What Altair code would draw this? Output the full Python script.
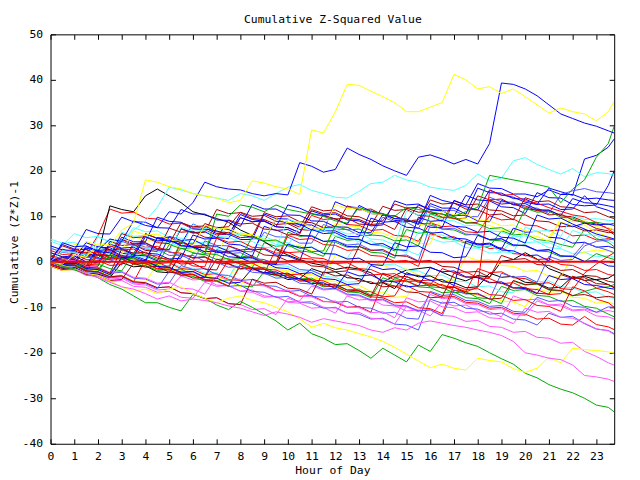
import altair as alt
import pandas as pd

# half-hour grid plus the final quarter hour
HOURS = [h / 2 for h in range(48)] + [23.75]

X_TICKS = list(range(24))
Y_TICKS = [-40, -30, -20, -10, 0, 10, 20, 30, 40, 50]

RED, DKRED, GREEN, BLUE = "#ff0000", "#aa0000", "#00aa00", "#0000ff"
LBLUE, MAG, CYAN, YEL, BLK = "#5555ff", "#ff55ff", "#55ffff", "#ffff00", "#000000"

S_Y1 = [0, -0.5, 1.5, 1, 4, 3.5, 7, 8.5, 18, 17.5, 16.5, 16, 15, 14.5, 14, 13,
        13.5, 17.8, 17.3, 16.5, 16, 14.8, 29, 28.3, 33, 39, 38.8, 37.5, 36.3, 35, 33, 33,
        34, 35, 41.2, 40, 38, 38.5, 37, 38, 36.3, 34.5, 32.7, 33.8, 33, 32.5, 31, 33, 35.3]
S_B1 = [0, 1, 0.5, 3, 2.5, 5, 4.5, 9, 8, 7.5, 11, 10.5, 13, 17.5, 16.5, 16,
        15.8, 15, 14.5, 15, 14.7, 21.8, 21, 19.7, 20.3, 25, 23.6, 22.5, 21.1, 20, 19, 23,
        23.5, 22.6, 21.5, 22.5, 21.5, 26, 39.3, 39, 38, 36.5, 34.5, 32.5, 31.5, 30.5, 29.8, 28.8, 28.3]
S_G1 = [0, -1, -1.5, 0, -0.5, -1.5, -2, 2, 1.5, 0.5, 0, 3, 2, 1.5, 10.5, 10,
        12.5, 12, 11, 12.5, 11.5, 11, 10.5, 10, 9, 8.5, 12, 11, 10.5, 10, 12, 11.5,
        11, 10.5, 10, 11, 12, 19, 18.5, 18, 17.5, 17, 16.4, 13, 16, 18, 23, 26, 29.8]
S_G2 = [0, -1, -1.8, -2.5, -3.5, -5, -6, -7.5, -9, -9, -10, -10.8, -7.2, -8, -9.5, -10.5,
        -8.7, -10, -11.5, -13, -15, -13.5, -15.8, -16.8, -18.2, -18, -19.5, -21.2, -19, -20.5, -22, -18.3,
        -19.7, -16, -16.8, -17.8, -18.6, -20, -21.3, -22.5, -24.5, -25.5, -27, -28, -28.8, -30, -31.5, -32, -33]
S_Y2 = [0, -0.8, -1.5, -2.5, -3, -4.2, -5.5, -6.5, -6, -7, -6, -5.5, -7, -8, -9, -8,
        -7.5, -8.5, -9, -10, -11, -12.5, -14.4, -13.5, -14.5, -15, -15.8, -16.5, -17.5, -18.8, -20.3, -21.8,
        -23.3, -22.5, -23.4, -23.8, -21.2, -21.7, -22, -23.5, -24.3, -23.4, -21, -22.2, -19, -19.3, -19.5, -19.8, -20.1]
S_M1 = [0, -1, -1.5, -2.5, -3.5, -4.5, -5.5, -6, -7, -8.2, -7.5, -8.6, -8.2, -8.5, -9, -9.7,
        -10.2, -11, -11.8, -11, -11.5, -12.2, -13.3, -12.5, -13, -13.5, -14, -15, -15.5, -14.5, -15, -13.5,
        -13, -13.5, -14, -14.4, -15, -15.5, -16.2, -17.5, -20, -20.5, -21.2, -21.5, -22.7, -25, -25.3, -25.8, -26.3]
S_K1 = [0, 0.5, -0.5, 1, 1.5, 12.3, 11.5, 11, 14.5, 16, 14.5, 13, 11, 10.3, 9.5, 8.7,
        7, 5.8, 4.5, 2.7, 1.5, 0.5, -0.3, -0.8, -1.7, -1.2, -1.6, -2.4, -4.5, -3, -1.8, -1.5,
        -1.2, -2.3, -3.4, -4.2, -3, -3.4, 0.1, 0.5, 2, 0.6, -1.5, -2.5, -3.5, -3.2, -4, -5, -5.7]
S_C1 = [0, 2.5, 2, 1.5, 3, 5, 4.5, 7, 9, 12, 16.4, 15.8, 15, 14.5, 14, 13.5,
        15, 14.5, 13.5, 15, 16.4, 17, 15.7, 15, 14.2, 14, 15.5, 17.2, 17.5, 19, 18, 17.5,
        16.4, 16, 15.7, 16.8, 19.3, 17.8, 18.4, 22.2, 22.9, 21.4, 20.3, 19.3, 20.5, 18.7, 19.6, 19.4, 19]
S_B2 = [1, 0.3, 2.2, 1.6, 0.8, 3.5, 2.9, 1.8, 6.2, 5.1, 4.6, 3.9, 8.3, 7.2, 6.8, 5.9,
        10.4, 9.3, 8.9, 7.7, 12.5, 11.8, 10.6, 10.1, 9.4, 8.2, 12.4, 11.1, 10.6, 9.5, 9.1, 8.4,
        14.6, 13.5, 12.9, 12.1, 11.4, 15.8, 14.7, 14.2, 13.1, 12.6, 16.2, 15.4, 14.6, 22.6, 23.4, 25.2, 27]
S_B3 = [2, 1.1, 0.9, 4.2, 3.2, 3.1, 1.9, 1.5, 0.4, 5.3, 4.9, 3.6, 3.3, 2.2, 7.6, 7.1,
        5.9, 5.4, 4.5, 9.5, 8.4, 8.3, 7, 6.8, 13.2, 12.1, 11.9, 10.6, 10.4, 9.1, 8.9, 12.5,
        11.5, 11.3, 10, 14.6, 13.6, 13.4, 12.1, 11.9, 10.6, 15.2, 14.1, 14, 12.6, 12.3, 12.5, 16.8, 20]
S_LB1 = [-0.5, -1.4, -1.5, 1.5, 0.6, 0.5, -0.7, 3.8, 2.8, 2.7, 1.4, 1.5, 0.2, 4.6, 3.6, 3.5,
         2.3, 2.2, 6.5, 5.5, 5.4, 4.1, 4.1, 8.2, 7.2, 7.1, 5.8, 5.8, 9.8, 8.8, 8.7, 7.3,
         12.3, 11.3, 11.3, 10, 9.9, 14.2, 13.2, 13.1, 11.9, 11.8, 10.6, 14.8, 15.6, 16.1, 15.4, 15.2, 15]
S_B4 = [0.5, 3.8, 2.8, 2.7, 1.5, 1.4, 5.4, 4.4, 4.4, 9.8, 8.9, 8.7, 7.4, 7.5, 6.2, 6.1,
        4.9, 4.9, 10.5, 9.5, 9.4, 8.1, 8.1, 6.8, 6.8, 5.6, 5.5, 11.2, 10.2, 10.1, 8.9, 8.8,
        7.6, 7.5, 13.5, 12.5, 17.2, 16.2, 16.1, 14.9, 14.9, 14.3, 15.8, 14.8, 14.8, 13.8, 14, 13.6, 13.5]
S_B5 = [3.5, 2.6, 2.5, 7.1, 6.2, 6.1, 9.8, 8.8, 8.7, 7.5, 7.4, 11.5, 10.5, 10.5, 9.2, 9.1,
        7.8, 12.6, 11.6, 11.6, 10.3, 10.2, 9, 8.9, 7.7, 7.6, 6.4, 6.4, 10.4, 9.5, 9.4, 8.2,
        12.8, 11.8, 11.8, 10.5, 16.2, 15.2, 15.1, 13.9, 13.8, 12.6, 12.7, 11.5, 11.6, 14.5, 12.1, 11.3, 10.7]
S_DR1 = [0.5, -0.4, -0.2, -1.5, 3.2, 2.3, 2.5, 1.2, 6.1, 5.2, 5.4, 4.1, 3.9, 8.4, 7.5, 7.7,
         10.9, 10, 10.2, 8.9, 8.7, 7.6, 12.1, 11.2, 11.4, 10.1, 9.9, 8.8, 9, 12.7, 11.8, 12,
         10.7, 10.5, 9.4, 9.6, 14.5, 13.6, 13.8, 12.5, 12.3, 11.2, 11.4, 10.1, 9.9, 8.8, 8.3, 7.4, 7]
S_DR2 = [-0.3, 2.8, 1.9, 2.1, 0.8, 0.6, 4.9, 4, 4.2, 2.9, 2.7, 7.2, 6.3, 6.5, 11.5, 10.6,
         10.8, 9.5, 9.3, 8.2, 8.4, 7.1, 6.9, 10.3, 9.4, 9.6, 8.3, 8.1, 12.2, 11.3, 11.5, 10.2,
         10, 8.9, 13.4, 12.5, 12.7, 11.4, 11.2, 10.1, 10.3, 9, 8.8, 7.7, 7.9, 6.8, 7, 6.4, 6.5]
S_DR3 = [1.2, 0.3, 0.5, -0.8, -1, 4.5, 3.6, 3.8, 2.5, 2.3, 7.4, 6.5, 6.7, 5.4, 5.2, 9.2,
         8.3, 8.5, 7.2, 7, 5.9, 6.1, 11.5, 10.6, 10.8, 9.5, 9.3, 8.2, 8.4, 7.1, 11.8, 10.9,
         11.1, 9.8, 9.6, 8.5, 8.7, 13.6, 12.7, 12.9, 11.6, 11.4, 10.3, 10.5, 9.2, 8.6, 7.3, 6.8, 6]
S_R1 = [-1, -1.9, 2.5, 1.6, 5.8, 11.6, 10.7, 10.9, 9.6, 9.4, 8.3, 8.5, 7.2, 7, 5.9, 6.1,
        9.7, 8.8, 9, 7.7, 7.5, 6.4, 10.2, 9.3, 9.5, 8.2, 8, 6.9, 7.1, 5.8, 5.6, 4.5,
        8.6, 7.7, 7.9, 6.6, 6.4, 10.1, 9.2, 9.4, 8.1, 7.9, 6.8, 7, 5.7, 5.9, 4.8, 5.1, 4.8]
S_G3 = [0, -0.9, -0.6, -1.7, -1.9, -3, 0.8, 0.5, -0.6, -0.4, -1.5, -2.2, 1.9, 1.6, 0.5, 0.7,
        -0.5, -1.3, 4.2, 3.4, 3.7, 2.4, 2.1, 1.2, 5.6, 4.7, 5, 3.8, 3.5, 2.4, 7.1, 6.3,
        6.5, 5.2, 4.9, 4.1, 3.2, 3.4, 6.8, 5.9, 6.1, 4.9, 4.6, 3.8, 3.2, 7.2, 5.1, 4.3, 3.3]
S_C2 = [4.5, 3.6, 6.2, 5.3, 5.6, 4.2, 4.1, 7.5, 6.6, 6.8, 5.4, 5.2, 4.1, 4.3, 3, 2.7,
        6.4, 5.5, 5.7, 4.4, 4.2, 3.1, 3.3, 2, 1.6, 0.8, 4.7, 3.8, 4, 2.7, 2.5, 1.5,
        5.2, 4.3, 4.5, 3.1, 3, 1.9, 2.1, 5.1, 4.2, 4.4, 3.1, 2.9, 1.8, 2.1, 1.1, 1.4, 1]
S_B6 = [0.3, -0.6, -0.4, 3.4, 2.5, 2.7, 1.3, 1.2, 0.1, 5.3, 4.4, 4.6, 3.2, 3.1, 2, 2.2,
        0.8, 0.9, -0.4, -0.6, 3.9, 3, 3.2, 1.8, 1.7, 0.6, 0.8, -0.6, -0.8, 4.2, 3.3, 3.5,
        2.1, 2, 0.9, 1.1, 5.8, 4.9, 5.1, 3.7, 3.6, 2.5, 2.7, 1.3, 1.2, 0.1, 0.3, -0.9, -1]
S_K2 = [-0.5, -1.4, -1.2, -2.5, -2.7, -3.5, -0.2, -1.1, -0.9, -2.2, -2.4, 1.8, 0.9, 1.1, -0.2, -0.4,
        -1.5, -1.3, -2.6, -2.8, -3.9, -3.7, -1.5, -2.4, -2.2, -3.5, -3.7, -4.8, -4.6, -5.9, -2.4, -3.3,
        -3.1, -4.4, -4.6, -5.7, -5.5, -2.5, -3.4, -3.2, -4.5, -4.7, -5.8, -5.6, -3.2, -4.1, -3.9, -3.6, -2.8]
S_DR4 = [0.8, -0.1, 0.1, -1.2, -1.4, -2.5, 2.8, 1.9, 2.1, 0.8, 0.6, -0.5, -0.3, -1.6, -1.8, 3.5,
         2.6, 2.8, 1.5, 1.3, 0.2, 0.4, -0.9, -1.1, -2.2, -2, 3.4, 2.5, 2.7, 1.4, 1.2, 0.1,
         0.3, -1, -1.2, -2.3, -2.1, -3.4, 1.4, 0.5, 0.7, -0.6, -0.8, -1.9, -1.7, -3, -3.2, -4.3, -4.5]
S_DR5 = [-0.8, -1.7, -1.5, -2.8, -3, -4.1, -3.9, -0.3, -1.2, -1, -2.3, -2.5, -3.6, -3.4, 0.6, -0.3,
         -0.1, -1.4, -1.6, -2.7, -2.5, -3.8, -4, -5.1, -4.9, -6.2, -6.4, -7.5, -2.5, -3.4, -3.2, -4.5,
         -4.7, -5.8, -5.6, -6.9, -7.1, -8.2, -8, -4.1, -5, -4.8, -6.1, -6.3, -7.4, -7.2, -7.9, -7.6, -7.8]
S_C3 = [1.5, 0.6, 0.8, -0.5, 3.2, 2.3, 2.5, 1.2, 1, -0.1, 0.1, -1.2, -1.4, -2.5, -2.3, -3.6,
        1.2, 0.3, 0.5, -0.8, -1, -2.1, -1.9, -3.2, -3.4, -4.5, -4.3, 0.2, -0.7, -0.5, -1.8, -2,
        -3.1, -2.9, -4.2, -4.4, -5.5, -5.3, -6.6, -6.8, -3.5, -4.4, -4.2, -5.5, -5.7, -6.8, -6.6, -7.9, -8]
S_Y3 = [0.2, -0.7, -0.5, -1.8, -2, -3.1, -2.9, -4.2, -4.4, -0.5, -1.4, -1.2, -2.5, -2.7, -3.8, -3.6,
        0.3, -0.6, -0.4, -1.7, -1.9, -3, -2.8, -4.1, -4.3, -5.4, -5.2, -6.5, -6.7, -7.8, -7.6, -4.2,
        -5.1, -4.9, -6.2, -6.4, -7.5, -7.3, -8.6, -8.8, -9.9, -5.8, -6.7, -6.5, -7.8, -8, -9.1, -8.9, -9.3]
S_M2 = [-0.5, -1.4, -1.2, -2.5, -2.7, -3.8, -3.6, -4.9, -5.1, -6.2, -6, -3.1, -4, -3.8, -5.1, -5.3,
        -6.4, -6.2, -7.5, -7.7, -8.8, -8.6, -5.3, -6.2, -6, -7.3, -7.5, -8.6, -8.4, -9.7, -9.9, -11,
        -7.2, -8.1, -7.9, -9.2, -9.4, -10.5, -10.3, -11.6, -11.8, -8.6, -9.5, -9.3, -10.6, -10.4, -11.1, -10.7, -11]
S_G4 = [0.5, -0.4, -0.2, -1.5, -1.7, 1.5, 0.6, 0.8, -0.5, -0.7, -1.8, -1.6, -2.9, -3.1, -4.2, -4,
        -5.3, -5.5, -2.2, -3.1, -2.9, -4.2, -4.4, -5.5, -5.3, -6.6, -6.8, -7.9, -3.5, -4.4, -4.2, -5.5,
        -5.7, -6.8, -6.6, -7.9, -8.1, -9.2, -5.4, -6.3, -6.1, -7.4, -7.6, -8.7, -8.5, -9.8, -10.2, -11.5, -12.1]
S_M3 = [-1, -1.9, -1.7, -3, -3.2, -4.3, -4.1, -5.4, -5.6, -6.7, -6.5, -7.8, -8, -4.5, -5.4, -5.2,
        -6.5, -6.7, -7.8, -7.6, -8.9, -9.1, -10.2, -10, -11.3, -7.5, -8.4, -8.2, -9.5, -9.7, -10.8, -10.6,
        -11.9, -8.8, -9.7, -9.5, -10.8, -11, -12.1, -7.5, -8.4, -8.2, -9.5, -9.7, -10.8, -10.6, -11.9, -12.1, -12.6]
S_R2 = [0, -0.9, -0.7, -2, -2.2, -3.3, -3.1, -4.4, 0.5, -0.4, -0.2, -1.5, -1.7, -2.8, -2.6, -3.9,
        -4.1, -5.2, -5, -6.3, -6.5, -7.6, -7.4, -8.7, -8.9, -10, -9.8, -11.1, -4.5, -5.4, -5.2, -6.5,
        -6.7, -7.8, -7.6, -8.9, -9.1, -10.2, -10, -11.3, -11.5, -12.6, -12.4, -13.7, -13.9, -12, -13.8, -14.3, -14.9]
S_LB2 = [-0.2, -1.1, -0.9, -2.2, -2.4, -3.5, -3.3, -4.6, -4.8, -5.9, -2.1, -3, -2.8, -4.1, -4.3, -5.4,
         -5.2, -6.5, -6.7, -7.8, -7.6, -8.9, -9.1, -10.2, -10, -11.3, -11.5, -12.6, -12.4, -13.7, -13.9, -15,
         -8.2, -9.1, -8.9, -10.2, -10.4, -11.5, -11.3, -12.6, -12.8, -13.9, -11.3, -12.2, -12, -13.6, -14.8, -15.1, -15.8]
S_M4 = [0, -0.9, -0.7, -2, -2.2, -3.3, -3.1, -4.4, -4.6, -5.7, -5.5, -6.8, -7, -8.1, -7.9, -9.2,
        -9.4, -10.5, -10.3, -11.6, -8, -8.9, -8.7, -10, -10.2, -11.3, -11.1, -12.4, -12.6, -13.7, -9.8, -10.7,
        -10.5, -11.8, -12, -13.1, -12.9, -14.2, -14.4, -15.5, -15.3, -16.6, -16.8, -17.9, -17.7, -19.7, -20.8, -22.2, -22.7]
S_R3 = [2.5, 1.6, 1.8, 0.5, 0.3, -0.8, -0.6, 4.1, 3.2, 3.4, 2.1, 1.9, 0.8, 1, -0.3, -0.5,
        -1.6, -1.4, -2.7, 2.9, 2, 2.2, 0.9, 0.7, -0.4, -0.2, -1.5, -1.7, -2.8, -2.6, -3.9, -4.1,
        -5.2, -5, -6.3, -6.5, -1.5, -2.4, -2.2, -3.5, -3.7, -4.8, -4.6, -5.9, -6.1, -2.5, -0.5, 1.2, 2]
S_R5 = [0, -0.9, -0.7, -2, 1.8, 0.9, 1.1, -0.2, -0.4, -1.5, -1.3, -2.6, -2.8, -3.9, -3.7, 0.4,
        -0.5, -0.3, -1.6, -1.8, -2.9, -2.7, -4, -4.2, -5.3, -5.1, -6.4, -6.6, -7.7, -7.5, -3.3, -4.2,
        -4, -5.3, -5.5, -6.6, -5.6, 15.7, 14.6, 14.8, 13.4, 12.9, 11.9, 11.1, 10.3, 9.9, 8.6, 7.2, 6.3]
S_Y4 = [-1, -1.9, -1.7, 2.6, 1.7, 1.9, 0.6, 0.4, -0.7, -0.5, -1.8, -2, -3.1, -2.9, -4.2, -4.4,
        -5.5, -0.5, -1.4, -1.2, -2.5, -2.7, -3.8, -3.6, 1.5, 0.6, 0.8, -0.5, -0.7, -1.8, -1.6, -2.9,
        -3.1, -4.2, -4, 1.2, 0.3, 0.5, -0.8, -1, -2.1, -1.9, -3.2, -3.4, 1.5, 2.1, 2.6, 2.3, 2]
S_Y5 = [2, 1.1, 1.3, 4.5, 3.6, 3.8, 2.5, 6.8, 5.9, 6.1, 4.8, 4.6, 3.5, 8.1, 7.2, 7.4,
        6.1, 5.9, 4.8, 9.5, 8.6, 8.8, 7.5, 7.3, 12.6, 11.7, 11.9, 10.6, 10.4, 9.3, 9.5, 8.2,
        8, 11.2, 10.3, 10.5, 9.2, 9, 7.9, 8.1, 6.8, 6.6, 5.5, 8.8, 7.9, 8.1, 6.4, 5.6, 5]
S_C4 = [5, 4.1, 4.3, 3, 2.8, 1.7, 6.5, 5.6, 5.8, 4.5, 4.3, 3.2, 8.2, 7.3, 7.5, 6.2,
        6, 4.9, 5.1, 3.8, 3.6, 7.7, 6.8, 7, 5.7, 5.5, 4.4, 4.6, 3.3, 3.1, 2, 6.6,
        5.7, 5.9, 4.6, 4.4, 3.3, 3.5, 2.2, 2, 7.6, 6.7, 6.9, 5.6, 10.2, 9.3, 9.5, 9.1, 9]
S_LB3 = [0.8, -0.1, 0.1, -1.2, -1.4, -2.5, -2.3, -3.6, -3.8, -4.9, -4.7, -0.8, -1.7, -1.5, -2.8, -3,
         -4.1, -3.9, -5.2, -5.4, -6.5, -6.3, -7.6, -7.8, -8.9, -8.7, -10, -10.2, -11.3, -11.1, -12.4, -12.6,
         -6.5, -7.4, -7.2, -8.5, -8.7, -9.8, -9.6, -10.9, -11.1, -7.8, -8.7, -8.5, -9.8, -10, -11.1, -9.9, -10]
S_M5 = [1, 0.1, 0.3, -1, -1.2, -2.3, -2.1, -3.4, -3.6, -4.7, -4.5, -5.8, -6, -7.1, -3.1, -4,
        -3.8, -5.1, -5.3, -6.4, -6.2, -7.5, -7.7, -8.8, -8.6, -9.9, -10.1, -11.2, -11, -12.3, -7.9, -8.8,
        -8.6, -9.9, -10.1, -11.2, -11, -12.3, -12.5, -13.6, -10.2, -11.1, -10.9, -12.2, -12.4, -13.5, -14.7, -15.2, -16]
S_R4 = [-0.5, -1.4, 2.8, 1.9, 2.1, 0.8, 0.6, -0.5, -0.3, -1.6, -1.8, -2.9, -2.7, -4, -4.2, -5.3,
        -0.9, -1.8, -1.6, -2.9, -3.1, -4.2, -4, -5.3, -5.5, -6.6, -6.4, -7.7, -7.9, -9, -8.8, -10.1,
        -10.3, -11.4, -5.2, -6.1, -5.9, -7.2, -7.4, -8.5, -8.3, -9.6, -9.8, -10.9, -5.5, -6.4, -8.2, -9, -10]
S_G5 = [0.2, -0.7, -0.5, -1.8, 1.4, 0.5, 0.7, -0.6, -0.8, -1.9, -1.7, -3, -3.2, -4.3, -4.1, -5.4,
        -0.5, -1.4, -1.2, -2.5, -2.7, -3.8, -3.6, -4.9, -5.1, -6.2, -6, -7.3, -7.5, -3.5, -4.4, -4.2,
        -5.5, -5.7, -6.8, -6.6, -7.9, -8.1, -9.2, -4.2, -5.1, -4.9, -6.2, -6.4, -7.5, -6.5, -5.8, -5.5, -5]
S_LB4 = [3, 2.1, 2.3, 1, 0.8, -0.3, 4.5, 3.6, 3.8, 2.5, 2.3, 1.2, 1.4, 0.1, -0.1, -1.2,
         -1, -2.3, -2.5, -3.6, -3.4, -4.7, -4.9, -6, -5.8, -7.1, -7.3, -8.4, -8.2, -9.5, -9.7, -10.8,
         -10.6, -11.9, -6.2, -7.1, -6.9, -8.2, -2.5, -3.4, -3.2, -4.5, 1.2, 0.3, 0.5, 3.5, 4.5, 4.8, 5]
S_B8 = [0, 4.2, 3.3, 3.5, 2.2, 2, 0.9, 1.1, 5.5, 4.6, 4.8, 3.5, 3.3, 2.2, 2.4, 1.1,
        0.9, -0.2, 0, -1.3, -1.5, -2.6, -2.4, -3.7, -3.9, -5, -4.8, -0.8, -1.7, -1.5, -2.8, -3,
        -4.1, -3.9, -5.2, 4.6, 3.7, 3.9, 2.6, 2.4, 1.3, 1.5, 0.2, 8.6, 7.7, 8.5, 8.1, 8.3, 8]
S_B9 = [0.5, -0.4, -0.2, -1.5, -1.7, -2.8, 1, 0.1, 0.3, -1, -1.2, -2.3, -2.1, -3.4, -3.6, -4.7,
        -4.5, -1.5, -2.4, -2.2, -3.5, -3.7, -4.8, -4.6, -5.9, -2.2, -3.1, -2.9, -4.2, -4.4, -5.5, -5.3,
        -1.3, -2.2, -2, -3.3, -3.5, -4.6, -4.4, -5.7, -5.9, -7, -3, -3.9, -3.7, -5, -5.2, -5.8, -6]
S_DR6 = [0, -0.9, -0.7, -2, -2.2, -3.3, -3.1, -4.4, -4.6, -5.7, -5.5, -6.8, -7, -8.1, -7.9, -9.2,
         -9.4, -3.8, -4.7, -4.5, -5.8, -6, -7.1, -2.2, -3.1, -2.9, -4.2, -4.4, -5.5, -5.3, -6.6, -6.8,
         -7.9, -7.7, -2.5, -3.4, -3.2, -4.5, -4.7, -5.8, -5.6, -6.9, -7.1, -2.8, -3.7, -3.5, -4.8, -5, -5.6]
S_R6 = [1.5, 0.6, 0.8, -0.5, -0.7, 3.5, 2.6, 2.8, 1.5, 1.3, 0.2, 0.4, -0.9, -1.1, 5.2, 4.3,
        4.5, 3.2, 3, 1.9, 2.1, 0.8, 0.6, -0.5, -0.3, -1.6, -1.8, -2.9, -2.7, -4, -4.2, -5.3,
        -5.1, -1.5, -2.4, -2.2, -3.5, -3.7, -4.8, -4.6, -5.9, -6.1, -7.2, -7, -3.2, -4.1, -5.8, -6.6, -7.2]
S_N1 = [0, -0.9, 2.4, 1.5, 1.7, 0.4, 4.8, 3.9, 4.1, 2.8, 2.6, 7.3, 6.4, 6.6, 5.3, 5.1,
        9.7, 8.8, 9, 7.7, 7.5, 6.4, 11.2, 10.3, 10.5, 9.2, 9, 7.9, 8.1, 13.4, 12.5, 12.7,
        11.4, 11.2, 10.1, 10.3, 9, 8.8, 13.5, 12.6, 12.8, 11.5, 11.3, 10.2, 13.9, 13, 12.8, 12.3, 12]
S_N2 = [1, 0.1, 0.3, -1, 3.5, 2.6, 2.8, 1.5, 1.3, 0.2, 5.6, 4.7, 4.9, 3.6, 3.4, 2.3,
        2.5, 1.2, 7.8, 6.9, 7.1, 5.8, 5.6, 4.5, 4.7, 3.4, 3.2, 9.6, 8.7, 8.9, 7.6, 7.4,
        6.3, 6.5, 5.2, 5, 3.9, 4.1, 2.8, 7.4, 6.5, 6.7, 5.4, 5.2, 4.1, 4.3, 3.2, 3.4, 3]
S_N3 = [0.5, -0.4, -0.2, -1.5, 2.2, 1.3, 1.5, 0.2, 0, -1.1, -0.9, 4.4, 3.5, 3.7, 2.4, 2.2,
        1.1, 1.3, 0, -0.2, 6.5, 5.6, 5.8, 4.5, 4.3, 3.2, 3.4, 2.1, 1.9, 0.8, 9.2, 8.3,
        8.5, 7.2, 7, 5.9, 6.1, 4.8, 4.6, 3.5, 3.7, 2.4, 2.2, 1.1, 1.3, 0, 1.8, 0.9, 0.5]
S_N4 = [0, -0.9, -0.7, -2, -2.2, 1.6, 0.7, 0.9, -0.4, -0.6, 3.8, 2.9, 3.1, 1.8, 1.6, 0.5,
        0.7, 5.5, 4.6, 4.8, 3.5, 3.3, 2.2, 2.4, 7.9, 7, 7.2, 5.9, 5.7, 4.6, 4.8, 3.5,
        10.6, 9.7, 9.9, 8.6, 8.4, 7.3, 7.5, 6.2, 11.8, 10.9, 11.1, 9.8, 9.6, 8.5, 8.7, 8.2, 8.5]
S_N5 = [0.8, 3.5, 2.6, 2.8, 1.5, 1.3, 6.2, 5.3, 5.5, 4.2, 4, 8.6, 7.7, 7.9, 6.6, 6.4,
        5.3, 5.5, 10.8, 9.9, 10.1, 8.8, 8.6, 7.5, 7.7, 12.3, 11.4, 11.6, 10.3, 10.1, 9, 9.2,
        13.6, 12.7, 12.9, 11.6, 11.4, 10.3, 10.5, 9.2, 14.1, 13.2, 13.4, 12.1, 11.9, 10.8, 11, 9.9, 9.5]
S_N6 = [0, -0.9, -0.7, 3.1, 2.2, 2.4, 1.1, 0.9, -0.2, 0, -1.3, 4.2, 3.3, 3.5, 2.2, 2,
        0.9, 1.1, -0.2, -0.4, 5.8, 4.9, 5.1, 3.8, 3.6, 2.5, 2.7, 1.4, 1.2, 0.1, 0.3, -1,
        6.2, 5.3, 5.5, 4.2, 4, 2.9, 3.1, 1.8, 1.6, 0.5, 0.7, -0.6, -0.8, -1.9, -1.7, -2.8, -3]
S_N7 = [1.2, 0.3, 3.9, 3, 3.2, 1.9, 1.7, 5.6, 4.7, 4.9, 3.6, 3.4, 2.3, 2.5, 1.2, 6.8,
        5.9, 6.1, 4.8, 4.6, 3.5, 3.7, 2.4, 2.2, 8.5, 7.6, 7.8, 6.5, 6.3, 5.2, 5.4, 4.1,
        3.9, 10.2, 9.3, 9.5, 8.2, 8, 6.9, 7.1, 5.8, 5.6, 4.5, 9.7, 8.8, 9, 7.7, 7.5, 7]
S_N8 = [3, 2.1, 2.3, 1, 5.4, 4.5, 4.7, 3.4, 3.2, 2.1, 2.3, 7.6, 6.7, 6.9, 5.6, 5.4,
        4.3, 4.5, 3.2, 3, 9.4, 8.5, 8.7, 7.4, 7.2, 6.1, 6.3, 5, 4.8, 3.7, 11.2, 10.3,
        10.5, 9.2, 9, 7.9, 8.1, 6.8, 6.6, 5.5, 5.7, 4.4, 4.2, 3.1, 6.9, 6, 5.8, 4.7, 4]
S_N9 = [0, -0.9, -0.7, -2, -2.2, -3.3, 0.9, 0, 0.2, -1.1, -1.3, -2.4, -2.2, -3.5, 2.7, 1.8,
        2, 0.7, 0.5, -0.6, -0.4, -1.7, -1.9, -3, 4.6, 3.7, 3.9, 2.6, 2.4, 1.3, 1.5, 0.2,
        8.1, 7.2, 7.4, 6.1, 5.9, 4.8, 5, 3.7, 3.5, 2.4, 2.6, 1.3, 1.1, 4.2, 3.3, 2.5, 2]
S_N10 = [2, 1.1, 1.3, 0, -0.2, 3.9, 3, 3.2, 1.9, 1.7, 0.6, 0.8, 5.9, 5, 5.2, 3.9,
         3.7, 2.6, 2.8, 1.5, 1.3, 0.2, 7.1, 6.2, 6.4, 5.1, 4.9, 3.8, 4, 2.7, 2.5, 9.8,
         8.9, 9.1, 7.8, 7.6, 6.5, 6.7, 5.4, 5.2, 4.1, 10.3, 9.4, 9.6, 8.3, 7.2, 6.1, 5.4, 5]

SERIES = [
    ("R1", RED, S_R1), ("G3", GREEN, S_G3), ("B2", BLUE, S_B2), ("M2", MAG, S_M2),
    ("C2", CYAN, S_C2), ("DR1", DKRED, S_DR1), ("Y3", YEL, S_Y3), ("K1", BLK, S_K1),
    ("LB1", LBLUE, S_LB1), ("N1", BLUE, S_N1), ("R2", RED, S_R2), ("G4", GREEN, S_G4),
    ("B3", BLUE, S_B3), ("N3", GREEN, S_N3), ("M3", MAG, S_M3), ("C3", CYAN, S_C3),
    ("DR2", DKRED, S_DR2), ("Y4", YEL, S_Y4), ("N7", YEL, S_N7), ("K2", BLK, S_K2),
    ("LB2", LBLUE, S_LB2), ("R3", RED, S_R3), ("N6", RED, S_N6), ("G5", GREEN, S_G5),
    ("B4", BLUE, S_B4), ("N2", BLUE, S_N2), ("M4", MAG, S_M4), ("C4", CYAN, S_C4),
    ("N8", CYAN, S_N8), ("DR3", DKRED, S_DR3), ("N5", DKRED, S_N5), ("Y5", YEL, S_Y5),
    ("LB3", LBLUE, S_LB3), ("N9", LBLUE, S_N9), ("R4", RED, S_R4), ("B5", BLUE, S_B5),
    ("N10", BLUE, S_N10), ("M5", MAG, S_M5), ("DR4", DKRED, S_DR4), ("N4", GREEN, S_N4),
    ("LB4", LBLUE, S_LB4), ("R5", RED, S_R5), ("B6", BLUE, S_B6), ("DR5", DKRED, S_DR5),
    ("B8", BLUE, S_B8), ("R6", RED, S_R6), ("B9", BLUE, S_B9), ("DR6", DKRED, S_DR6),
    ("G2", GREEN, S_G2), ("Y2", YEL, S_Y2), ("M1", MAG, S_M1), ("C1", CYAN, S_C1),
    ("G1", GREEN, S_G1), ("B1", BLUE, S_B1), ("Y1", YEL, S_Y1),
]

rows = []
for name, color, vals in SERIES:
    assert len(vals) == len(HOURS), (name, len(vals))
    for h, v in zip(HOURS, vals):
        rows.append({"series": name, "color": color, "hour": h, "value": v})
df = pd.DataFrame(rows)

FONT = "DejaVu Sans Mono"
FS = 11.5
xs = alt.Scale(domain=[0, 23.75], nice=False, zero=False)
ys = alt.Scale(domain=[-40, 50], nice=False, zero=False)

text_style = dict(titleFont=FONT, titleFontSize=FS, titleFontWeight="normal",
                  titleColor="black", titleBaseline="alphabetic")
lab_common = dict(ticks=False, tickSize=0, domain=False, grid=False, labelFont=FONT,
                  labelFontSize=FS, labelColor="black", labelFlush=False, labelOverlap=False,
                  labelExpr="'' + datum.value", **text_style)
tick_common = dict(labels=False, domain=False, grid=False, ticks=True, tickSize=5,
                   tickColor="black", tickWidth=1)

base = alt.Chart(df)

lines = base.mark_line(strokeWidth=1, clip=True).encode(
    x=alt.X("hour:Q", scale=xs, axis=alt.Axis(orient="bottom", values=X_TICKS, labelPadding=7,
                                              title="Hour of Day", titleX=285, titleY=30,
                                              **lab_common)),
    y=alt.Y("value:Q", scale=ys, axis=alt.Axis(orient="left", values=Y_TICKS, labelPadding=8,
                                               title="Cumulative (Z*Z)-1", titleX=-33, titleY=210,
                                               titleAngle=270, **lab_common)),
    color=alt.Color("color:N", scale=None),
    detail="series:N",
)

zero = alt.Chart(pd.DataFrame({"zero": [0]})).mark_rule(color=RED, strokeWidth=2).encode(
    y=alt.Y("zero:Q", scale=ys, axis=None)
)

ticks_bl = base.mark_line(opacity=0).encode(
    x=alt.X("hour:Q", scale=xs, axis=alt.Axis(orient="bottom", offset=-5, values=X_TICKS,
                                              title=None, **tick_common)),
    y=alt.Y("value:Q", scale=ys, axis=alt.Axis(orient="left", offset=-5, values=Y_TICKS,
                                               title=None, **tick_common)),
    detail="series:N",
)
ticks_tr = base.mark_line(opacity=0).encode(
    x=alt.X("hour:Q", scale=xs, axis=alt.Axis(orient="top", offset=-5, values=X_TICKS,
                                              title="Cumulative Z-Squared Value",
                                              titleX=285, titleY=-17, **text_style,
                                              **tick_common)),
    y=alt.Y("value:Q", scale=ys, axis=alt.Axis(orient="right", offset=-5, values=Y_TICKS,
                                               title=None, **tick_common)),
    detail="series:N",
)

chart = alt.layer(lines, zero, ticks_bl, ticks_tr).resolve_axis(
    x="independent", y="independent"
).properties(
    width=570,
    height=414,
    padding={"left": 43, "top": 24, "right": 18, "bottom": 34},
    autosize=alt.AutoSizeParams(type="none"),
    background="white",
).configure_view(stroke="black", strokeWidth=1)

chart.save("out.html", embed_options={"renderer": "svg", "actions": False})
